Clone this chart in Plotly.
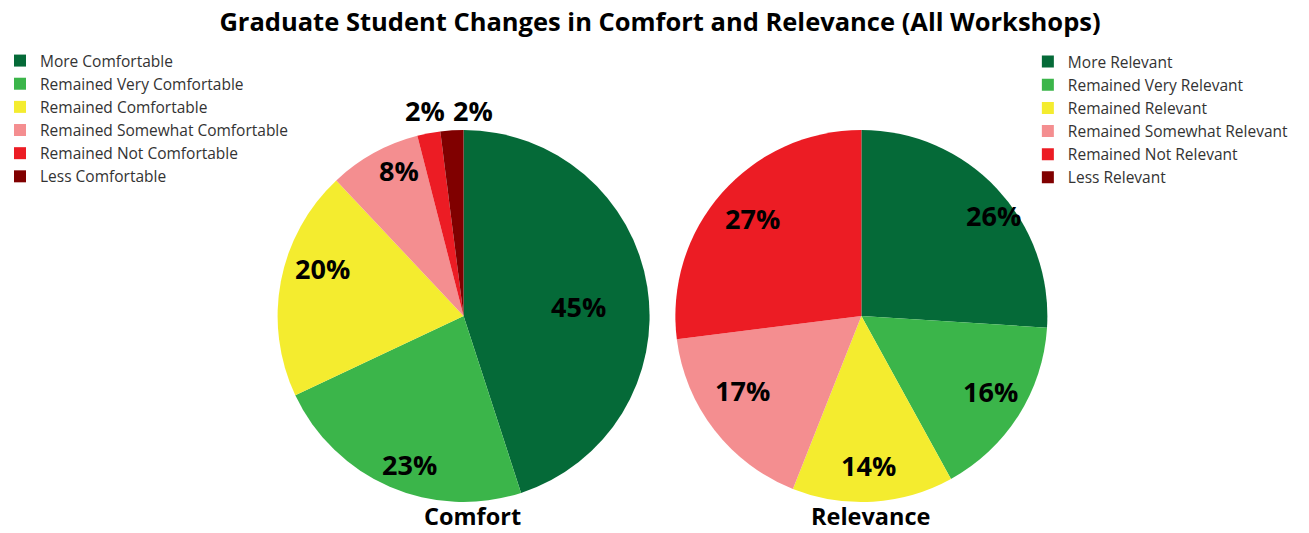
import math
import plotly.graph_objects as go

comfort_labels = ["More Comfortable", "Remained Very Comfortable", "Remained Comfortable",
                  "Remained Somewhat Comfortable", "Remained Not Comfortable", "Less Comfortable"]
comfort_values = [45, 23, 20, 8, 2, 2]

relevance_labels = ["More Relevant", "Remained Very Relevant", "Remained Relevant",
                    "Remained Somewhat Relevant", "Remained Not Relevant", "Less Relevant"]
relevance_values = [26, 16, 14, 17, 27, 0]

colors = ["#056a38", "#3bb54a", "#f4ec2f", "#f48e90", "#ec1c24", "#800000"]
chart_names = ["Comfort", "Relevance"]
title_text = "Graduate Student Changes in Comfort and Relevance (All Workshops)"

FONT = "Open Sans"
W, H = 1309, 533
R = 186            # pie radius in px
CY = 316           # pie centre y in px
CX = [461, 860]    # pie centre x in px

# label placement style: radial fraction and small nudges (px) per slice
label_r = [[0.8, 0.8, 0.8, 0.8, 1.1, 1.1], [0.8, 0.8, 0.8, 0.8, 0.8, 0.8]]
label_dx = [[-32, 5, 5, 7, 0, 22], [24, 4, -2, -2, 2, 0]]
label_dy = [[14, 12, -20, -15, -5, -1], [1, -4, 1, -17, 1, 0]]

fig = go.Figure()
annotations = []
for k, (labels, values, leg) in enumerate([(comfort_labels, comfort_values, "legend"),
                                            (relevance_labels, relevance_values, "legend2")]):
    fig.add_trace(go.Pie(
        labels=labels, values=values, sort=False, direction="clockwise",
        rotation=0, marker=dict(colors=colors, line=dict(width=0)),
        textinfo="none", hoverinfo="label+percent",
        domain=dict(x=[(CX[k] - R - 10) / W, (CX[k] + R + 10) / W],
                    y=[(H - CY - R) / H, (H - CY + R) / H]),
        legend=leg, showlegend=True,
    ))
    total = sum(values)
    cum = 0
    for i, v in enumerate(values):
        mid = (cum + v / 2) / total * 2 * math.pi
        cum += v
        if v <= 0:
            continue
        rr = label_r[k][i] * R
        px = CX[k] + rr * math.sin(mid) + label_dx[k][i]
        py = CY - rr * math.cos(mid) + label_dy[k][i]
        annotations.append(dict(
            text=f"{v}%", x=px / W, y=1 - py / H, xref="paper", yref="paper",
            xanchor="center", yanchor="middle", showarrow=False,
            font=dict(family=FONT, size=27, color="black", weight="bold")))

for k, name in enumerate(chart_names):
    annotations.append(dict(
        text=name, x=(CX[k] + 9) / W, y=1 - 516 / H, xref="paper", yref="paper",
        xanchor="center", yanchor="middle", showarrow=False,
        font=dict(family=FONT, size=23.5, color="black", weight="bold")))

legend_style = dict(font=dict(family=FONT, size=15.5, color="#333333"), bgcolor="rgba(0,0,0,0)",
                    yanchor="top", xanchor="left", tracegroupgap=0, itemclick=False)
fig.update_layout(
    width=W, height=H,
    margin=dict(l=0, r=0, t=0, b=0),
    paper_bgcolor="white", plot_bgcolor="white",
    title=dict(text=title_text, x=660 / W, xanchor="center", y=1 - 22 / H, yanchor="middle",
               font=dict(family=FONT, size=25.5, color="black", weight="bold")),
    legend=dict(x=-4 / W, y=1 - 44 / H, **legend_style),
    legend2=dict(x=1027 / W, y=1 - 45 / H, **legend_style),
    annotations=annotations,
)
fig.write_html("out.html", config={"displayModeBar": False},
               post_script="document.body.style.margin='0';")
